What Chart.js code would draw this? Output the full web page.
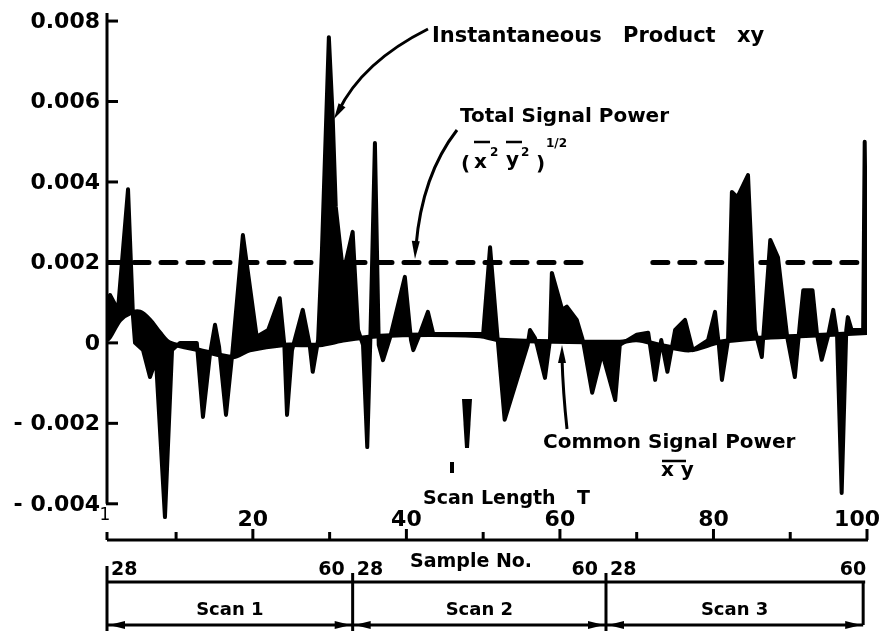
<!DOCTYPE html>
<html>
<head>
<meta charset="utf-8">
<script src="https://cdn.jsdelivr.net/npm/chart.js@4.4.1/dist/chart.umd.min.js"></script>
<style>
  html, body { margin: 0; padding: 0; background: #fff; }
  #wrap { position: relative; width: 886px; height: 631px; }
</style>
</head>
<body>
<div id="wrap"><canvas id="chart"></canvas></div>
<script>
// position along the scan (scan length T, 1..100) and the instantaneous product xy
const sampleX = [
  1, 1.39, 2.43, 3.74, 4.39, 4.65, 5.69, 6.6, 7.38, 8.55,
  9.47, 10.5, 12.7, 13.5, 14.4, 15.07, 15.6, 16.5, 17.3, 18.7,
  20.5, 22.0, 23.5, 24.1, 24.45, 25.1, 26.5, 27.4, 27.8, 28.5,
  29.0, 29.9, 30.4, 30.8, 31.6, 32.1, 33.0, 33.7, 34.35, 34.9,
  35.3, 35.9, 36.4, 36.95, 37.9, 39.8, 40.6, 40.9, 41.6, 42.8,
  43.5, 49.2, 50.0, 50.9, 51.9, 52.8, 55.8, 56.1, 56.75, 57.0,
  58.05, 58.7, 58.95, 60.3, 60.9, 62.2, 62.9, 63.1, 64.2, 65.5,
  67.2, 67.8, 70.0, 71.5, 72.4, 73.2, 74.0, 75.0, 76.3, 77.3,
  79.3, 80.2, 80.7, 81.1, 81.9, 82.4, 83.1, 84.5, 85.4, 86.3,
  87.4, 88.4, 89.6, 90.6, 91.3, 91.7, 92.9, 93.5, 94.1, 94.9,
  95.6, 96.1, 96.7, 97.3, 97.5, 98.0, 99.5, 99.7, 100
];
const productXY = [
  0.00107, 0.00119, 0.00082, 0.00382, 0.00064, 0.0, -0.00018, -0.00085, -0.00042, -0.00433,
  -0.00018, 0.0, 0.0, -0.00184, -0.0003, 0.00045, -0.0001, -0.00179, -0.0003, 0.00268,
  0.00015, 0.00032, 0.00111, -0.00005, -0.00179, -0.00018, 0.00082, -0.00005, -0.00072, 0.00007,
  0.0023, 0.0076, 0.00561, 0.00338, 0.00201, 0.00201, 0.00276, 0.00032, -0.00005, -0.00259,
  0.00007, 0.00497, -0.00005, -0.00043, 0.00015, 0.00164, 0.00007, -0.00018, 0.00015, 0.00077,
  0.00022, 0.00022, 0.00022, 0.00238, 0.00007, -0.00191, -0.00005, 0.00032, 0.00012, -0.00005,
  -0.00087, 0.00007, 0.00174, 0.00082, 0.0009, 0.00057, 0.00012, -0.00005, -0.00124, -0.00025,
  -0.00142, -0.00005, 0.0002, 0.00025, -0.00092, 0.00007, -0.00072, 0.00032, 0.00057, -0.00018,
  0.00007, 0.00077, -0.00005, -0.00092, 0.00007, 0.00375, 0.00362, 0.00417, 0.00032, -0.00035,
  0.00256, 0.00213, 0.00015, -0.00085, 0.00057, 0.00131, 0.00131, 0.0002, -0.00042, 0.00015,
  0.00082, 0.0002, -0.00373, 0.00032, 0.00064, 0.00032, 0.00032, 0.005, 0.00032
];

// common signal power (mean of xy)
const commonX = [1, 1.39, 2.7, 4.0, 5.3, 6.6, 7.9, 9.2, 13.1, 17.4, 19.6, 23.9, 28.7,
  32.0, 36.6, 43.1, 49.6, 52.2, 67.8, 70.0, 73.0, 76.9, 80.8, 86.0, 91.3, 100];
const commonXY = [0.00007, 0.00015, 0.00057, 0.00074, 0.00077, 0.00057, 0.00025, 0.0, -0.00018,
  -0.00035, -0.00018, -0.00005, -0.00005, 0.00007, 0.00017, 0.0002, 0.00017, 0.00007, 0.00002,
  0.00007, -0.00005, -0.00018, 0.00002, 0.00012, 0.00017, 0.00025];

// total signal power (x^2 y^2)^1/2, broken between scans 2 and 3
const totalX = [1, 63.4, 63.5, 72.1, 100];
const totalPower = [0.002, 0.002, null, 0.002, 0.002];

const xTicks = [1, 10, 20, 30, 40, 50, 60, 70, 80, 90, 100];
const xTickLabels = ['1', '', '20', '', '40', '', '60', '', '80', '', '100'];
const yTicks = [0.008, 0.006, 0.004, 0.002, 0, -0.002, -0.004];
const yTickLabels = ['0.008', '0.006', '0.004', '0.002', '0', '- 0.002', '- 0.004'];

const scanNames = ['Scan 1', 'Scan 2', 'Scan 3'];
const scanBounds = [1, 33, 66, 99.5];
const sampleRange = ['28', '60'];

const FONT = '"DejaVu Sans", sans-serif';

function arrowHead(ctx, fx, fy, tx, ty, len, half) {
  const a = Math.atan2(ty - fy, tx - fx);
  ctx.beginPath();
  ctx.moveTo(tx, ty);
  ctx.lineTo(tx - len * Math.cos(a) + half * Math.sin(a), ty - len * Math.sin(a) - half * Math.cos(a));
  ctx.lineTo(tx - len * Math.cos(a) - half * Math.sin(a), ty - len * Math.sin(a) + half * Math.cos(a));
  ctx.closePath();
  ctx.fill();
}

const decor = {
  id: 'decor',
  afterDraw(chart) {
    const { ctx, chartArea: a, scales: { x, y } } = chart;
    ctx.save();
    ctx.strokeStyle = '#000';
    ctx.fillStyle = '#000';
    ctx.lineWidth = 3;

    // y axis with inward ticks, ends at the lowest tick
    const yEnd = y.getPixelForValue(yTicks[yTicks.length - 1]);
    ctx.beginPath();
    ctx.moveTo(a.left, a.top);
    ctx.lineTo(a.left, yEnd);
    ctx.stroke();
    ctx.font = 'bold 22px ' + FONT;
    ctx.textAlign = 'right';
    ctx.textBaseline = 'middle';
    yTicks.forEach((v, i) => {
      const py = y.getPixelForValue(v);
      ctx.beginPath();
      ctx.moveTo(a.left - 1, py);
      ctx.lineTo(a.left + 11, py);
      ctx.stroke();
      ctx.fillText(yTickLabels[i], a.left - 7, py + 1);
    });

    // x axis: line at the bottom, ticks pointing up, labels above the line
    ctx.beginPath();
    ctx.moveTo(a.left, a.bottom);
    ctx.lineTo(a.right + 1, a.bottom);
    ctx.stroke();
    ctx.textAlign = 'center';
    xTicks.forEach((v, i) => {
      const px = x.getPixelForValue(v);
      const major = xTickLabels[i] !== '';
      ctx.beginPath();
      ctx.moveTo(px, a.bottom);
      ctx.lineTo(px, a.bottom - (major && v !== 1 ? 11 : 8));
      ctx.stroke();
      if (!major) return;
      if (v === 1) {
        ctx.font = '17px ' + FONT;
        ctx.fillText(xTickLabels[i], px - 2, a.bottom - 24);
        ctx.font = 'bold 22px ' + FONT;
      } else {
        const w = ctx.measureText(xTickLabels[i]).width;
        ctx.fillText(xTickLabels[i], Math.min(px, 880 - w / 2), a.bottom - 20);
      }
    });

    // scan length label
    ctx.font = 'bold 19px ' + FONT;
    ctx.textAlign = 'left';
    ctx.fillText('Scan Length', 423, 499);
    ctx.fillText('T', 577, 499);

    // sample number row and scan boxes
    const rowY = 582, botY = 625;
    const bx = scanBounds.map(v => x.getPixelForValue(v));
    ctx.beginPath();
    ctx.moveTo(bx[0], rowY);
    ctx.lineTo(bx[3] + 2, rowY);
    ctx.moveTo(bx[0], 566);
    ctx.lineTo(bx[0], 631);
    ctx.moveTo(bx[1], 573);
    ctx.lineTo(bx[1], 631);
    ctx.moveTo(bx[2], 573);
    ctx.lineTo(bx[2], 631);
    ctx.moveTo(bx[3], rowY);
    ctx.lineTo(bx[3], botY);
    ctx.moveTo(bx[0], botY);
    ctx.lineTo(bx[3], botY);
    ctx.stroke();
    for (let i = 0; i < 3; i++) {
      arrowHead(ctx, bx[i] + 20, botY, bx[i] + 2, botY, 16, 4);
      arrowHead(ctx, bx[i + 1] - 20, botY, bx[i + 1] - 2, botY, 16, 4);
    }
    ctx.font = 'bold 19px ' + FONT;
    ctx.textBaseline = 'middle';
    ctx.textAlign = 'left';
    for (let i = 0; i < 3; i++) ctx.fillText(sampleRange[0], bx[i] + 4, 570);
    ctx.textAlign = 'right';
    ctx.fillText(sampleRange[1], bx[1] - 8, 570);
    ctx.fillText(sampleRange[1], bx[2] - 8, 570);
    ctx.fillText(sampleRange[1], bx[3] + 3, 570);
    ctx.textAlign = 'left';
    ctx.fillText('Sample No.', 410, 562);
    ctx.textAlign = 'center';
    ctx.font = 'bold 18px ' + FONT;
    for (let i = 0; i < 3; i++) ctx.fillText(scanNames[i], (bx[i] + bx[i + 1]) / 2, 610);

    // annotations
    ctx.textAlign = 'left';
    ctx.textBaseline = 'alphabetic';
    ctx.font = 'bold 21px ' + FONT;
    ctx.fillText('Instantaneous', 432, 42);
    ctx.fillText('Product', 623, 42);
    ctx.fillText('xy', 737, 42);

    ctx.font = 'bold 20px ' + FONT;
    ctx.fillText('Total Signal Power', 460, 122);
    ctx.fillText('(', 461, 170);
    ctx.fillText('x', 474, 168);
    ctx.fillText('y', 506, 166);
    ctx.fillText(')', 536, 170);
    ctx.font = 'bold 12px ' + FONT;
    ctx.fillText('2', 490, 156);
    ctx.fillText('2', 521, 156);
    ctx.fillText('1/2', 546, 147);
    ctx.lineWidth = 2.5;
    ctx.beginPath();
    ctx.moveTo(474, 142); ctx.lineTo(490, 142);
    ctx.moveTo(506, 142); ctx.lineTo(522, 142);
    ctx.stroke();

    ctx.font = 'bold 20px ' + FONT;
    ctx.fillText('Common Signal Power', 543, 448);
    ctx.fillText('x y', 661, 476);
    ctx.beginPath();
    ctx.moveTo(662, 461); ctx.lineTo(686, 461);
    ctx.stroke();

    // leader lines
    ctx.lineWidth = 3;
    ctx.beginPath();
    ctx.moveTo(428, 29);
    ctx.quadraticCurveTo(362, 62, 338, 112);
    ctx.stroke();
    arrowHead(ctx, 345, 100, 334, 119, 16, 4);
    ctx.beginPath();
    ctx.moveTo(457, 130);
    ctx.quadraticCurveTo(422, 175, 416, 246);
    ctx.stroke();
    arrowHead(ctx, 416, 236, 415, 259, 18, 4);
    ctx.beginPath();
    ctx.moveTo(567, 429);
    ctx.quadraticCurveTo(563, 392, 562, 358);
    ctx.stroke();
    arrowHead(ctx, 562, 368, 562, 345, 18, 4);

    // scan length marks
    ctx.beginPath();
    ctx.moveTo(462, 399); ctx.lineTo(472, 399); ctx.lineTo(469, 448); ctx.lineTo(465, 448);
    ctx.closePath();
    ctx.fill();
    ctx.fillRect(450, 462, 4, 11);

    ctx.restore();
  }
};

new Chart(document.getElementById('chart'), {
  type: 'line',
  data: {
    datasets: [
      {
        label: 'Instantaneous Product xy',
        data: sampleX.map((v, i) => ({ x: v, y: productXY[i] })),
        borderColor: '#000',
        backgroundColor: '#000',
        borderWidth: 4,
        borderJoinStyle: 'round',
        pointRadius: 0,
        tension: 0,
        fill: { target: 1, above: '#000', below: '#000' }
      },
      {
        label: 'Common Signal Power',
        data: commonX.map((v, i) => ({ x: v, y: commonXY[i] })),
        borderColor: '#000',
        borderWidth: 4.5,
        pointRadius: 0,
        tension: 0.3,
        fill: false
      },
      {
        label: 'Total Signal Power',
        data: totalX.map((v, i) => ({ x: v, y: totalPower[i] })),
        borderColor: '#000',
        borderWidth: 5,
        borderDash: [15, 12],
        borderCapStyle: 'round',
        pointRadius: 0,
        spanGaps: false,
        fill: false
      }
    ]
  },
  options: {
    responsive: true,
    maintainAspectRatio: false,
    animation: false,
    layout: { padding: { left: 107, top: 13, right: 19, bottom: 91 } },
    plugins: { legend: { display: false }, tooltip: { enabled: false } },
    scales: {
      x: { type: 'linear', min: 1, max: 100, display: false },
      y: { type: 'linear', min: -0.0049, max: 0.0082, display: false }
    }
  },
  plugins: [decor]
});
</script>
</body>
</html>
